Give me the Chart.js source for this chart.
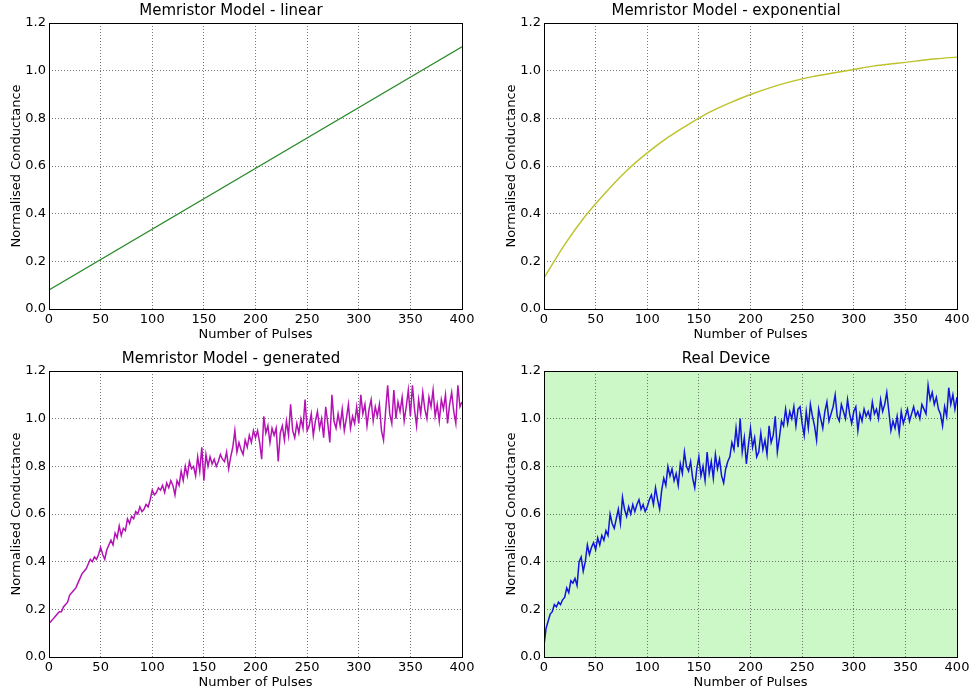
<!DOCTYPE html>
<html>
<head>
<meta charset="utf-8">
<script src="https://cdn.jsdelivr.net/npm/chart.js@4.4.1/dist/chart.umd.min.js"></script>
<style>
  body { margin: 0; background: #fff; }
  #wrap { position: relative; width: 970px; height: 693px; }
  .cell { position: absolute; width: 485px; height: 345px; }
</style>
</head>
<body>
<div id="wrap">
  <div class="cell" style="left:0;top:0"><canvas id="c1" width="485" height="345"></canvas></div>
  <div class="cell" style="left:495px;top:0"><canvas id="c2" width="485" height="345"></canvas></div>
  <div class="cell" style="left:0;top:348px"><canvas id="c3" width="485" height="345"></canvas></div>
  <div class="cell" style="left:495px;top:348px"><canvas id="c4" width="485" height="345"></canvas></div>
</div>
<script>
// axis ticks
const xTicks = [0, 50, 100, 150, 200, 250, 300, 350, 400];
const yTicks = [0.0, 0.2, 0.4, 0.6, 0.8, 1.0, 1.2];

// linear model
const linearX = [0, 400];
const linearY = [0.08, 1.10];

// exponential model (read every 20 pulses)
const expX = [0, 20, 40, 60, 80, 100, 120, 140, 160, 180, 200, 220, 240, 260, 280, 300, 320, 340, 360, 380, 400];
const expY = [0.13, 0.27, 0.39, 0.49, 0.58, 0.655, 0.72, 0.775, 0.825, 0.865, 0.90, 0.93, 0.955, 0.975, 0.99, 1.005, 1.02, 1.03, 1.04, 1.05, 1.057];

// noisy series are read every 2 pulses
const pulseStep = 2;

const generatedY = [
  0.14, 0.15, 0.16, 0.17, 0.18, 0.19, 0.19, 0.21, 0.22, 0.23,
  0.26, 0.27, 0.28, 0.29, 0.31, 0.33, 0.35, 0.36, 0.37, 0.39,
  0.41, 0.40, 0.42, 0.41, 0.43, 0.46, 0.43, 0.41, 0.45, 0.47,
  0.49, 0.47, 0.52, 0.50, 0.55, 0.51, 0.54, 0.53, 0.58, 0.56,
  0.59, 0.58, 0.61, 0.60, 0.63, 0.61, 0.62, 0.64, 0.63, 0.66,
  0.70, 0.68, 0.69, 0.71, 0.70, 0.72, 0.69, 0.73, 0.71, 0.74,
  0.72, 0.68, 0.74, 0.72, 0.78, 0.74, 0.80, 0.76, 0.82, 0.79,
  0.80, 0.76, 0.84, 0.78, 0.88, 0.74, 0.85, 0.80, 0.84, 0.81,
  0.83, 0.80, 0.82, 0.85, 0.83, 0.82, 0.86, 0.79, 0.84, 0.88,
  0.95, 0.86, 0.90, 0.87, 0.85, 0.91, 0.88, 0.93, 0.90, 0.95,
  0.92, 0.95, 0.90, 0.83, 1.01, 0.94, 0.97, 0.90, 0.96, 0.93,
  0.96, 0.82, 0.94, 0.97, 0.91, 0.99, 0.93, 1.06, 0.95, 0.92,
  0.98, 0.94, 1.00, 0.96, 1.08, 0.95, 0.97, 1.02, 0.93, 0.99,
  1.03, 0.96, 1.00, 0.92, 1.05, 0.98, 0.90, 1.10, 0.99, 0.96,
  1.02, 0.97, 1.04, 0.95, 1.00, 1.06, 0.96, 1.01, 0.98, 1.05,
  0.98, 1.10, 1.02, 1.06, 0.97, 1.04, 1.08, 0.99, 1.05, 1.01,
  1.06, 0.95, 0.91, 1.03, 1.14, 1.02, 0.98, 1.12, 1.00, 1.07,
  1.03, 1.09, 0.99, 1.05, 1.12, 1.01, 1.14, 1.04, 0.97, 1.08,
  1.02, 1.11, 1.04, 1.00, 1.09, 1.05, 1.12, 1.01, 1.06, 0.99,
  1.08, 1.04, 1.10, 0.98, 1.06, 1.11, 1.03, 0.98, 1.14, 1.05,
  1.07
];

const realY = [
  0.05, 0.12, 0.15, 0.18, 0.19, 0.22, 0.21, 0.23, 0.22, 0.24,
  0.25, 0.29, 0.27, 0.32, 0.31, 0.33, 0.30, 0.40, 0.42, 0.36,
  0.40, 0.47, 0.43, 0.46, 0.48, 0.45, 0.50, 0.47, 0.51, 0.49,
  0.53, 0.51, 0.60, 0.56, 0.54, 0.58, 0.62, 0.56, 0.67, 0.62,
  0.59, 0.63, 0.60, 0.64, 0.61, 0.64, 0.66, 0.62, 0.64, 0.61,
  0.63, 0.66, 0.68, 0.64, 0.71, 0.66, 0.62, 0.70, 0.75, 0.72,
  0.80, 0.76, 0.79, 0.74, 0.77, 0.72, 0.81, 0.77, 0.86, 0.80,
  0.78, 0.82, 0.75, 0.71, 0.79, 0.84, 0.76, 0.80, 0.74, 0.86,
  0.77, 0.82, 0.75, 0.85, 0.79, 0.83, 0.76, 0.73, 0.79, 0.82,
  0.84, 0.90, 0.87, 0.96, 0.88, 1.00, 0.86, 0.92, 0.81, 0.89,
  0.96, 0.88, 0.92, 0.84, 0.86, 0.94, 0.87, 0.91, 0.85, 0.97,
  0.90, 0.93, 1.01, 0.86, 0.92, 0.99, 0.97, 1.04, 0.98, 1.03,
  1.00, 1.05, 0.97, 1.04, 1.05, 0.98, 0.93, 1.03, 0.96, 1.06,
  1.01, 0.97, 0.91, 1.04, 1.00, 0.96, 1.03, 1.07, 0.99, 1.02,
  1.05, 1.10, 1.01, 0.99, 1.06, 1.03, 1.00, 1.08, 1.02, 0.98,
  1.03, 1.05, 0.95, 1.02, 0.99, 1.04, 1.01, 1.03, 1.00, 1.07,
  1.02, 1.04, 1.00, 1.08, 1.03, 1.06, 1.11, 1.03, 0.95, 0.99,
  0.96, 1.01, 0.94, 1.03, 0.98, 1.01, 1.04, 0.99, 1.02, 1.05,
  1.01, 1.03, 1.00, 1.06, 1.04, 1.02, 1.14, 1.08, 1.11, 1.06,
  1.09, 1.04, 1.02, 0.97, 1.05, 1.01, 1.13, 1.06, 1.10, 1.04,
  1.09
];

const FONT = "'DejaVu Sans', 'Liberation Sans', sans-serif";

function toPoints(xs, ys) {
  return ys.map((y, i) => ({ x: xs ? xs[i] : i * pulseStep, y }));
}

// fills the plot area and draws the black frame like matplotlib axes
const framePlugin = {
  id: 'frame',
  beforeDatasetsDraw(chart, args, opts) {
    if (!opts.bg) return;
    const a = chart.chartArea;
    chart.ctx.save();
    chart.ctx.globalCompositeOperation = 'destination-over';
    chart.ctx.fillStyle = opts.bg;
    chart.ctx.fillRect(a.left, a.top, a.right - a.left, a.bottom - a.top);
    chart.ctx.restore();
  },
  afterDatasetsDraw(chart) {
    const a = chart.chartArea;
    const ctx = chart.ctx;
    ctx.save();
    ctx.strokeStyle = '#000';
    ctx.lineWidth = 1;
    ctx.strokeRect(Math.round(a.left) + 0.5, Math.round(a.top) + 0.5,
      Math.round(a.right - a.left), Math.round(a.bottom - a.top));
    ctx.restore();
  }
};

function makeChart(id, title, points, color, bg, smooth, width) {
  new Chart(document.getElementById(id), {
    type: 'line',
    data: {
      datasets: [{
        data: points,
        borderColor: color,
        borderWidth: width,
        pointRadius: 0,
        fill: false,
        tension: 0,
        cubicInterpolationMode: smooth ? 'monotone' : 'default'
      }]
    },
    options: {
      responsive: false,
      animation: false,
      layout: { padding: { left: 0, right: 23, top: 0, bottom: 0 } },
      plugins: {
        legend: { display: false },
        tooltip: { enabled: false },
        title: {
          display: true,
          text: title,
          color: '#000',
          font: { family: FONT, size: 15, weight: 'normal' },
          padding: { top: 2, bottom: 3 }
        },
        frame: { bg: bg }
      },
      scales: {
        x: {
          type: 'linear',
          min: 0,
          max: 400,
          afterFit(scale) { scale.height = 36; },
          afterBuildTicks(scale) { scale.ticks = xTicks.map(v => ({ value: v })); },
          ticks: { color: '#000', font: { family: FONT, size: 13 }, padding: 3, maxRotation: 0 },
          grid: { color: '#555', lineWidth: 0.8, drawTicks: false },
          border: { display: false, dash: [1, 2] },
          title: {
            display: true,
            text: 'Number of Pulses',
            color: '#000',
            font: { family: FONT, size: 13 },
            padding: { top: 0, bottom: 3 }
          }
        },
        y: {
          min: 0,
          max: 1.2,
          afterFit(scale) { scale.width = 49; },
          afterBuildTicks(scale) { scale.ticks = yTicks.map(v => ({ value: v })); },
          ticks: {
            color: '#000',
            font: { family: FONT, size: 13 },
            padding: 3,
            callback: v => v.toFixed(1)
          },
          grid: { color: '#555', lineWidth: 0.8, drawTicks: false },
          border: { display: false, dash: [1, 2] },
          title: {
            display: true,
            text: 'Normalised Conductance',
            color: '#000',
            font: { family: FONT, size: 13 },
            padding: { top: 9, bottom: 0 }
          }
        }
      }
    },
    plugins: [framePlugin]
  });
}

makeChart('c1', 'Memristor Model - linear', toPoints(linearX, linearY), '#2a8a2a', null, false, 1.3);
makeChart('c2', 'Memristor Model - exponential', toPoints(expX, expY), '#bcc22a', null, true, 1.4);
makeChart('c3', 'Memristor Model - generated', toPoints(null, generatedY), '#b512b5', null, false, 1.5);
makeChart('c4', 'Real Device', toPoints(null, realY), '#1414dc', '#ccf8c8', false, 1.5);
</script>
</body>
</html>
